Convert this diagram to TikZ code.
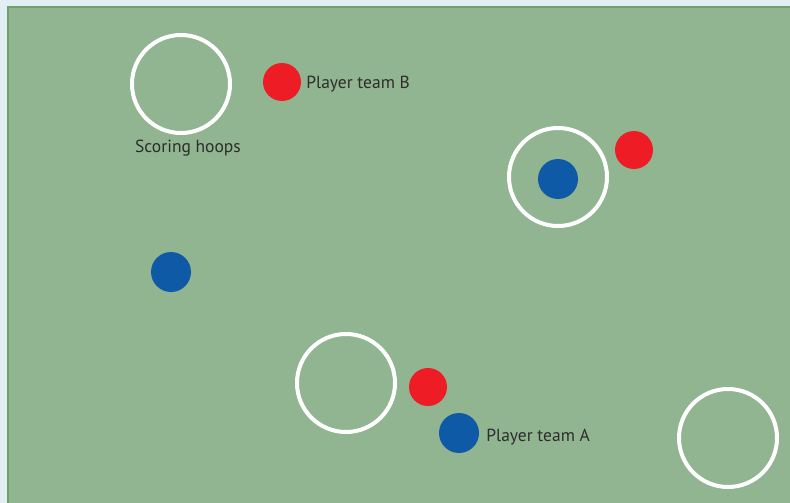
\documentclass[tikz,border=0pt]{standalone}
\usepackage{fontspec}
\setmainfont{PT Sans}
\usetikzlibrary{positioning}
\definecolor{pagebg}{RGB}{225,238,243}
\definecolor{field}{RGB}{145,180,145}
\definecolor{fieldedge}{RGB}{112,160,112}
\definecolor{teamred}{RGB}{238,28,37}
\definecolor{teamblue}{RGB}{14,90,167}
\definecolor{labelgray}{RGB}{45,45,45}

\begin{document}
\begin{tikzpicture}[
  x=1pt, y=-1pt,
  font=\fontsize{17.5}{20}\selectfont,
  hoop/.style={draw=white, line width=4pt, circle, minimum size=98pt, inner sep=0pt},
  redp/.style={fill=teamred, circle, minimum size=38pt, inner sep=0pt},
  bluep/.style={fill=teamblue, circle, minimum size=40pt, inner sep=0pt},
  lbl/.style={text=labelgray, inner sep=0pt}
]
\useasboundingbox (0,0) rectangle (790,503);
\fill[pagebg] (0,0) rectangle (790,503);
\fill[field] (7,6) rectangle (790,503);
\draw[fieldedge, line width=2pt] (8,503) -- (8,7) -- (790,7);
% hoops
\foreach \n/\x/\y in {hA/181/84, hB/558/177, hC/346/383, hD/728/438} {
  \node[hoop] (\n) at (\x,\y) {};
}
% players
\node[redp] (rA) at (282,82) {};
\node[redp] (rB) at (634,150) {};
\node[redp] (rC) at (428,387) {};
\node[bluep] (bA) at (558,179) {};
\node[bluep] (bB) at (171,272) {};
\node[bluep] (bC) at (459,433) {};
% labels
\node[lbl, right=5pt of rA, yshift=-2pt] (labB) {Player team B};
\node[lbl, right=7pt of bC, yshift=-4pt] (labA) {Player team A};
\node[lbl, below=5pt of hA, xshift=7pt] (labH) {Scoring hoops};
\end{tikzpicture}
\end{document}
